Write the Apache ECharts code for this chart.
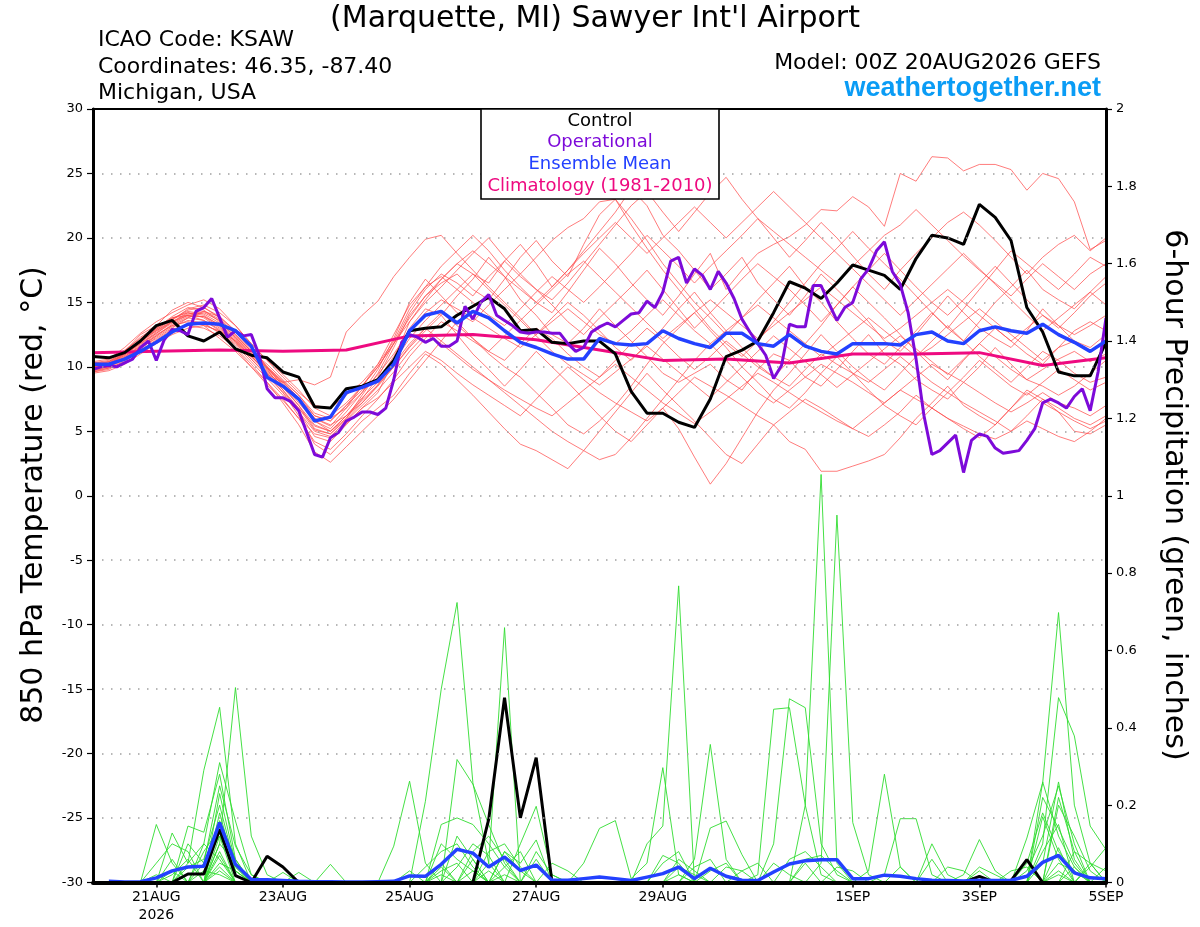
<!DOCTYPE html>
<html><head><meta charset="utf-8">
<script src="https://cdn.jsdelivr.net/npm/echarts@6/dist/echarts.min.js"></script>
<style>html,body{margin:0;padding:0;background:#fff}#c{width:1200px;height:927px}</style>
</head><body><div id="c"></div>
<script>
// ---- axis ticks (hours after 00Z 20AUG2026) ----
const labelHours = [24, 72, 120, 168, 216, 288, 336, 384];
const labelTexts = ['21AUG\n2026', '23AUG', '25AUG', '27AUG', '29AUG', '1SEP', '3SEP', '5SEP'];

// ---- climatology (daily) ----
const climHours = [0,24,48,72,96,120,144,168,192,216,240,264,288,312,336,360,384];
const climTemp = [11.1,11.2,11.3,11.2,11.3,12.4,12.5,12.1,11.3,10.5,10.6,10.3,11.0,11.0,11.1,10.1,10.7];

// ---- control 850 hPa temperature (6-hourly, h0..h384) ----
const controlTemp = [
 10.8,10.7,11.1,12.0, 13.2,13.6,12.4,12.0, 12.7,11.4,10.9,10.7, 9.6,9.2,6.9,6.8,
 8.3,8.5,9.0,10.5, 12.8,13.0,13.1,14.0, 14.7,15.4,14.5,12.8, 12.9,11.9,11.8,12.0,
 12.0,11.0,8.1,6.4, 6.4,5.7,5.3,7.5, 10.8,11.3,12.0,14.2, 16.6,16.1,15.3,16.5,
 17.9,17.5,17.1,16.0, 18.4,20.2,20.0,19.5, 22.6,21.6,19.8,14.6, 12.7,9.6,9.3,9.3, 11.9];

// ---- ensemble mean temperature (6-hourly) ----
const meanTemp = [
 10.2,10.2,10.6,11.2, 11.9,12.7,13.3,13.4, 13.3,12.8,11.6,9.2, 8.5,7.5,5.8,6.1,
 8.0,8.4,8.9,10.2, 12.8,14.0,14.3,13.4, 14.3,13.8,12.8,11.9, 11.5,11.0,10.6,10.6,
 12.2,11.8,11.7,11.8, 12.8,12.2,11.8,11.5, 12.6,12.6,11.8,11.6, 12.5,11.6,11.2,11.0,
 11.8,11.8,11.8,11.7, 12.5,12.7,12.0,11.8, 12.8,13.1,12.8,12.6, 13.3,12.5,11.9,11.2, 12.0];

// ---- operational temperature (3-hourly) ----
const operTemp = [
 9.8,10.0,10.1,10.0,10.3,10.6,11.5,12.0,
 10.5,12.1,12.9,12.8,12.5,14.3,14.6,15.3,
 13.8,12.3,12.8,12.4,12.5,10.9,8.3,7.6,
 7.6,7.3,6.6,4.9,3.2,3.0,4.5,4.9,
 5.8,6.1,6.5,6.5,6.3,6.8,9.0,11.9,
 12.5,12.3,11.9,12.2,11.6,11.6,12.0,14.7,
 13.7,15.0,15.6,14.0,13.6,13.2,12.7,12.6,
 12.7,12.7,12.6,12.6,11.8,11.2,11.5,12.7,
 13.1,13.4,13.1,13.6,14.1,14.2,15.1,14.6,
 15.8,18.2,18.5,16.5,17.6,17.1,16.0,17.4,
 16.5,15.3,13.7,12.7,11.8,10.9,9.1,10.1,
 13.3,13.1,13.1,16.3,16.3,14.9,13.6,14.6,
 15.0,16.8,17.6,19.0,19.7,17.4,16.4,14.2,
 10.6,6.2,3.2,3.5,4.1,4.7,1.8,4.3,
 4.8,4.6,3.7,3.3,3.4,3.5,4.3,5.2,
 7.2,7.5,7.2,6.8,7.7,8.3,6.6,9.6,
 13.8];

// ---- control & mean 6-hour precipitation (index 0 = h0, not drawn) ----
const controlPrecip = [
 0,0,0,0, 0,0,0.022,0.022, 0.137,0.018,0,0.068, 0.04,0,0,0,
 0,0,0,0, 0,0,0,0, 0,0.163,0.478,0.167, 0.323,0,0,0,
 0,0,0,0, 0,0,0,0, 0,0,0,0, 0,0,0,0,
 0,0,0,0, 0,0,0,0, 0.016,0,0.005,0.059, 0,0,0,0, 0];
const meanPrecip = [
 0,0.003,0.001,0.002, 0.012,0.03,0.04,0.042, 0.155,0.047,0.008,0.007, 0.005,0.003,0.002,0.002,
 0.001,0.001,0.002,0.003, 0.017,0.016,0.047,0.086, 0.076,0.04,0.066,0.031, 0.045,0.006,0.006,0.01,
 0.014,0.01,0.005,0.014, 0.023,0.04,0.01,0.037, 0.016,0.006,0.005,0.027, 0.048,0.056,0.059,0.059,
 0.01,0.01,0.019,0.016, 0.01,0.006,0.005,0.004, 0.006,0.005,0.006,0.016, 0.052,0.07,0.025,0.012, 0.01];

// ---- ensemble member temperatures (6-hourly) ----
const memberT01 = [9.8,10.1,10.9,11.8,12.6,13.5,14.2,14.0,13.2,12.1,11.0,9.8,8.2, 6.5,4.6,4.2,5.5,6.8,8.0,10.5,13.5,15.2,16.8,18.0, 17.2,16.5,18.2,19.5,18.0,16.2,17.5,19.0,20.5,22.0, 23.8,22.5,20.2,19.0,17.5,16.0,17.2,18.5,16.5,15.2, 14.0,15.5,17.2,16.0,14.8,13.5,12.0,11.2,12.5,14.0, 15.5,14.2,13.0,12.2,11.5,12.8,14.5,13.2,12.0,11.5,12.5];
const memberT02 = [10.2,10.4,11.2,12.5,13.2,14.4,15.0,14.6,13.8,12.5,11.2,10.2,9.0, 7.8,6.2,5.8,7.0,8.2,9.0,10.8,13.0,14.5,14.0,15.5, 16.8,18.5,17.0,15.2,14.0,12.5,11.8,13.0,14.5,13.2, 12.0,10.8,9.5,8.8,9.5,10.2,9.0,8.2,9.8,11.0, 10.5,9.2,8.5,9.8,11.2,12.5,11.0,10.2,9.0,8.2, 7.5,8.8,10.0,11.5,10.2,9.0,8.5,7.8,8.5,9.5,10.5];
const memberT03 = [9.6,9.8,10.5,11.2,12.0,12.8,13.2,13.0,12.4,11.5,10.2,8.8,7.2, 5.5,3.4,2.6,3.8,5.0,6.2,7.5,9.0,10.5,12.0,13.5, 12.2,11.0,10.0,9.2,8.0,6.8,5.5,4.8,5.8,7.0, 8.5,10.2,11.8,13.0,14.2,12.8,11.5,10.0,8.8,7.5, 6.8,8.0,9.5,10.8,9.5,8.2,7.0,6.2,5.5,6.8, 8.0,7.2,6.5,5.8,5.0,6.2,7.5,6.8,6.0,5.5,6.2];
const memberT04 = [10.0,10.3,11.0,11.9,12.8,13.6,14.5,14.8,14.2,13.2,11.8,10.5,9.2, 8.0,7.0,6.8,7.8,8.8,10.2,12.0,14.5,16.2,17.8,19.0, 20.2,19.0,17.5,16.2,15.0,14.2,15.8,17.5,19.2,18.0, 16.5,15.2,14.0,15.5,17.2,18.8,16.0,17.5,18.8,19.5, 20.1,21.0,22.2,22.1,23.2,22.4,20.9,25.0,24.4,26.3, 26.2,25.2,25.7,25.7,25.3,23.7,25.0,24.6,22.8,19.1,19.8];
const memberT05 = [10.1,10.0,10.6,11.5,12.2,13.0,13.8,14.3,13.9,12.8,11.5,10.0,8.5, 7.0,5.2,4.8,6.0,7.5,9.2,11.5,14.0,15.5,16.5,17.2, 16.0,15.2,16.8,18.5,19.8,18.2,17.0,19.5,21.8,23.0, 21.5,19.8,18.0,16.5,15.0,13.8,12.5,13.8,15.2,16.5, 17.8,16.2,15.0,13.5,12.2,11.0,10.2,11.5,12.8,14.2, 13.0,12.0,13.5,15.0,16.2,17.5,16.0,15.2,14.5,15.8,17.0];
const memberT06 = [9.5,9.7,10.2,11.0,11.8,12.5,13.0,13.2,12.8,12.0,10.8,9.5,8.0, 6.2,4.0,3.2,4.5,5.8,6.8,7.8,9.5,11.0,10.2,9.0, 7.8,6.5,5.2,4.0,3.5,2.8,2.1,3.5,5.0,6.5, 8.0,9.5,8.2,7.0,5.8,4.5,3.2,2.5,4.0,5.5, 4.2,3.6,1.9,1.9,2.3,2.7,3.2,4.5,6.0,7.2, 8.5,7.0,6.2,5.5,6.8,8.2,7.5,6.5,5.8,5.2,5.8];
const memberT07 = [10.3,10.5,11.3,12.2,13.0,13.8,14.2,13.8,13.0,12.0,10.8,9.6,8.5, 7.5,6.0,5.5,6.2,7.2,8.5,10.0,11.5,12.8,14.0,12.5, 11.0,9.8,8.5,9.8,11.2,10.0,8.8,7.5,6.2,5.0, 4.2,5.5,6.8,5.2,3.0,0.9,2.5,4.5,6.5,8.2, 9.5,11.0,12.5,11.2,10.0,9.0,8.2,9.5,10.8,12.0, 13.2,12.0,10.8,9.8,8.8,10.0,11.2,10.5,9.5,8.8,9.2];
const memberT08 = [9.9,10.2,11.0,12.0,13.0,13.9,14.6,14.4,13.5,12.3,11.0,9.8,8.6, 7.2,5.8,5.0,6.0,7.8,9.5,11.8,14.2,16.0,17.2,16.5, 15.5,17.0,18.2,17.0,16.0,15.2,16.5,18.0,19.5,21.0, 22.5,23.6,22.0,20.5,22.0,23.5,24.7,23.0,21.5,20.0, 18.5,19.8,21.2,20.0,18.6,17.2,16.0,17.5,18.8,20.0, 21.2,22.0,21.0,19.8,18.5,17.2,18.5,19.5,20.2,19.0,20.0];
const memberT09 = [10.0,10.4,11.2,12.3,13.1,13.8,14.0,13.6,12.8,11.8,10.6,9.4,8.8, 9.0,8.6,9.2,12.7,14.0,15.1,17.0,18.5,19.9,20.2,18.8, 17.5,16.2,15.0,13.8,12.5,13.8,15.0,14.0,12.8,11.5, 10.5,11.8,13.0,14.5,15.8,14.2,12.8,11.5,10.2,9.2, 10.5,11.8,13.2,14.8,16.2,15.0,13.8,12.5,11.2,10.0, 9.0,10.5,11.8,13.0,12.0,11.0,10.2,11.5,12.8,13.5,12.8];
const memberT10 = [9.7,9.9,10.6,11.4,12.3,13.1,13.6,13.4,12.6,11.4,10.0,8.6,7.4, 6.0,4.8,4.5,5.6,6.8,7.6,8.8,10.0,11.2,10.5,9.5, 8.6,7.8,7.0,6.2,7.5,8.8,10.0,9.0,8.0,7.2, 6.5,5.8,6.8,8.0,9.2,8.5,7.8,7.0,6.2,5.5, 6.5,7.5,6.8,6.0,5.2,4.6,5.5,6.5,7.8,6.8, 6.0,5.2,4.5,5.5,6.8,8.0,7.2,6.5,5.0,4.8,5.5];
const memberT11 = [10.4,10.6,11.5,12.6,13.5,14.2,14.8,15.2,14.5,13.2,11.8,10.5,9.4, 8.2,6.8,6.2,7.2,8.5,10.0,11.8,13.5,15.0,16.2,17.5, 18.8,20.0,18.5,17.2,16.0,14.8,13.5,12.5,13.8,15.0, 16.2,17.5,16.0,14.5,13.0,14.2,15.5,16.8,18.0,17.0, 16.0,14.8,13.5,14.8,16.2,17.5,18.8,17.5,16.2,15.0, 14.0,15.2,16.5,17.8,16.5,15.2,14.0,13.0,14.2,15.5,16.5];
const memberT12 = [9.8,10.0,10.8,11.6,12.5,13.2,13.5,13.2,12.2,11.2,10.0,8.8,7.5, 6.0,4.2,3.6,4.8,6.2,7.5,9.0,10.8,12.2,13.5,12.8, 12.0,11.2,10.5,11.8,13.0,12.2,11.0,10.0,9.2,10.5, 11.8,13.0,12.0,10.8,9.8,10.8,12.0,11.0,10.0,9.2, 8.5,9.8,11.0,10.2,9.5,8.8,9.8,10.8,9.8,8.8, 8.0,9.2,10.5,9.5,8.5,7.8,8.8,9.8,9.0,8.2,8.8];
const memberT13 = [10.2,10.1,10.8,11.7,12.6,13.4,14.0,14.2,13.6,12.4,11.2,9.9,8.7, 7.4,5.8,5.2,6.5,8.0,9.8,12.2,15.0,16.8,15.5,14.2, 13.5,14.8,16.0,17.2,18.5,19.8,20.8,21.5,22.8,23.0, 21.0,19.2,17.5,16.0,14.5,13.0,11.8,10.8,12.0,13.5, 15.0,16.5,18.0,19.2,20.5,19.2,18.0,16.8,15.5,14.2, 13.0,14.5,16.0,17.5,19.0,18.0,17.0,16.0,17.2,18.5,17.8];
const memberT14 = [10.0,10.2,10.9,11.9,12.9,13.7,14.4,14.6,13.9,12.7,11.3,10.0,8.9, 7.8,6.4,6.0,6.8,8.0,9.4,11.0,12.8,14.2,15.2,14.5, 13.8,13.0,12.2,11.5,12.5,13.5,14.5,13.5,12.5,11.8, 12.8,14.0,15.2,14.0,12.8,11.8,12.8,13.8,14.8,13.8, 12.8,11.8,10.8,11.8,12.8,13.8,12.8,11.8,10.8,11.5, 12.5,13.5,14.5,13.5,12.5,11.5,10.5,11.5,12.0,11.2,12.0];
const memberT15 = [9.6,9.9,10.4,11.3,12.1,12.9,13.3,13.3,12.7,11.7,10.4,9.1,7.8, 6.5,5.0,4.6,5.8,7.0,8.2,9.6,11.2,12.5,11.8,10.8, 9.8,9.0,8.2,7.5,6.8,6.2,7.2,8.2,9.2,10.2, 9.2,8.2,7.2,6.4,5.6,6.5,7.5,8.5,9.5,8.8, 8.0,7.2,6.5,5.8,5.2,6.2,7.2,8.2,7.5,6.8, 6.0,5.4,4.8,4.4,5.0,5.8,5.2,4.6,4.2,5.0,6.0];
const memberT16 = [10.1,10.3,11.1,12.1,12.9,13.7,14.3,14.1,13.4,12.3,11.1,9.9,8.8, 7.6,6.0,5.4,6.8,8.5,10.2,12.5,14.8,16.2,17.0,16.0, 15.0,14.0,13.2,14.5,15.8,17.0,16.0,15.0,16.2,17.5, 18.8,20.2,19.0,17.8,16.5,17.8,19.0,20.2,21.5,20.5, 19.5,18.5,17.5,16.5,17.8,19.0,20.2,21.0,22.2,21.0, 19.8,18.6,17.5,16.5,15.5,16.8,18.0,17.0,16.0,17.2,18.0];
const memberT17 = [9.9,10.0,10.7,11.5,12.4,13.2,13.8,13.6,12.9,11.9,10.6,9.3,8.0, 6.8,5.4,5.0,6.2,7.6,8.8,10.2,11.8,13.0,12.0,11.0, 10.0,9.0,8.0,7.0,6.0,5.0,4.2,3.5,2.8,3.2, 4.5,6.0,7.5,9.0,10.5,11.8,10.5,9.2,8.0,7.2, 8.2,9.2,10.2,9.5,8.8,8.0,7.2,8.2,9.2,10.2, 9.5,8.8,8.0,7.2,6.5,7.2,8.0,7.2,6.8,6.2,7.0];
const memberT18 = [10.3,10.4,11.0,12.0,12.8,13.5,14.0,13.9,13.1,12.0,10.8,9.7,8.4, 7.0,5.5,5.0,6.2,7.4,8.6,10.4,12.2,13.6,14.8,16.0, 17.2,16.0,14.8,13.6,14.8,16.0,17.2,18.2,17.0,15.8, 14.6,13.4,12.2,13.2,14.2,15.2,14.2,13.2,12.2,13.2, 14.2,15.2,16.2,15.2,14.2,13.2,12.2,13.0,14.0,15.0, 16.0,15.0,14.0,13.0,12.0,13.0,14.0,13.2,12.5,13.2,14.0];
const memberT19 = [9.7,10.0,10.7,11.6,12.4,13.3,13.9,13.9,13.3,12.2,10.9,9.5,8.2, 6.8,5.1,4.8,5.9,7.2,8.6,10.0,11.6,13.0,14.2,13.2, 12.2,11.2,12.4,13.6,12.4,11.2,10.2,9.4,8.6,9.6, 10.6,11.6,10.6,9.6,8.6,7.6,8.8,10.0,11.2,12.4, 11.4,10.4,9.4,8.4,9.4,10.4,11.4,12.4,11.4,10.4, 9.4,10.6,11.8,10.8,9.8,9.0,9.8,10.6,11.2,10.4,11.0];
const memberT20 = [10.0,10.2,11.0,11.8,12.7,13.5,14.1,14.3,13.7,12.5,11.2,10.0,8.8, 7.6,6.2,5.8,7.0,8.5,10.0,11.8,13.8,15.5,16.8,18.0, 19.0,18.0,17.0,16.0,15.0,16.2,17.5,18.8,20.0,21.2, 20.0,18.8,20.0,21.2,22.4,21.2,20.0,21.2,22.4,23.6, 22.4,21.2,20.0,18.8,17.6,16.4,15.2,14.0,15.2,16.4, 17.6,18.8,17.6,16.4,15.2,14.0,12.8,13.8,14.8,15.8,14.8];

// ---- ensemble member 6-hour precipitation (index 0 = h0, not drawn) ----
const memberP01 = [0,0,0,0,.15, .05,0,0,.12,.04, 0,0,0,0,0, 0,0,0,0,0, 0,0,.03,.05,0, 0,0,0,0,0, 0,0,0,0,0, 0,0,.02,0,0, 0,0,0,0,0, 0,0,0,0,0, 0,0,0,0,0, 0,0,0,0,0, .22,.14,.05,0,0];
const memberP02 = [0,0,0,0,0, 0,.05,.29,.453,.1, 0,0,0,0,0, 0,0,0,0,0, 0,.21,.5,.724,.258, .05,0,0,0,0, 0,0,0,0,0, 0,0,0,0,0, 0,0,0,.1,.475, .452,.1,.02,0,0, 0,0,0,0,0, 0,0,0,0,0, 0,.02,0,0,0];
const memberP03 = [0,0,0,0,0, 0,0,0,.1,.504, .12,.02,0,0,0, 0,0,0,0,0, 0,0,0,0,0, .05,.659,0,0,0, 0,0,0,0,0, .1,.146,.767,0,0, 0,0,0,0,0, 0,0,0,0,0, 0,0,0,0,0, 0,0,0,0,.115, .258,.698,.2,.05,0];
const memberP04 = [0,0,0,0,0, .128,.05,.1,.31,.159, .02,0,0,0,0, 0,0,0,0,.094, .262,.05,0,0,0, 0,0,0,0,0, 0,0,0,0,0, 0,0,0,0,0, 0,0,0,0,0, 0,.05,.95,.155,.02, 0,0,0,0,0, 0,0,0,0,0, .1,.478,.379,.146,.085];
const memberP05 = [0,0,0,0,0, 0,.146,.13,.28,.06, 0,0,0,0,0, 0,0,0,0,0, 0,0,0,.318,.254, .15,.05,0,0,0, 0,0,0,0,0, 0,0,0,0,0, 0,0,0,0,0, .2,1.055,.05,0,0, 0,0,0,0,0, 0,0,0,0,0, 0,.05,.03,0,0];
const memberP06 = [0,0,0,0,0, 0,0,.05,.25,.094, .02,0,0,0,0, 0,0,0,0,0, 0,0,.15,.167,.15, .1,.04,0,0,0, 0,0,0,0,0, 0,0,0,.06,.357, .06,0,0,0,0, 0,0,0,0,0, 0,0,0,0,0, 0,0,0,0,.05, .18,.08,.03,0,0];
const memberP07 = [0,0,0,0,.05, .1,.08,0,.23,.05, 0,0,0,0,0, 0,0,0,0,0, 0,0,0,0,0, 0,0,.1,.197,.02, 0,0,0,0,0, 0,0,0,0,0, 0,0,.02,.448,.452, .2,.02,0,0,0, 0,0,0,0,0, .02,.111,.03,0,0, 0,0,0,0,0];
const memberP08 = [0,0,0,0,0, 0,.04,.06,.2,.04, 0,0,0,0,0, 0,0,0,0,0, 0,0,0,0,0, 0,0,0,0,0, 0,.05,.14,.16,.01, .05,.297,.02,0,0, 0,0,0,0,0, 0,0,0,0,0, 0,0,0,0,0, 0,0,0,0,0, .26,.12,.04,0,0];
const memberP09 = [0,0,0,0,0, .06,0,0,.18,.03, 0,0,0,0,0, 0,0,0,0,0, 0,0,0,0,.08, .12,.06,0,0,0, 0,0,0,0,0, 0,0,0,0,.141, .159,.072,0,0,0, 0,0,0,0,.03, .28,.04,0,0,0, 0,0,0,0,0, 0,0,0,.04,.09];
const memberP10 = [0,0,0,0,0, 0,0,0,.16,.06, 0,0,.026,0,0, 0,0,0,0,0, 0,.04,.08,.1,.04, 0,0,0,0,0, 0,0,0,0,0, 0,0,0,0,0, 0,0,0,0,.06, .08,.04,0,0,0, .02,.165,.165,.02,0, 0,0,0,0,0, .17,.06,0,0,0];
const memberP11 = [0,0,0,0,0, 0,0,.08,.14,.03, 0,0,0,0,0, 0,0,0,0,0, 0,0,0,0,0, 0,.08,.05,.11,0, 0,0,0,0,0, 0,.05,.08,0,0, 0,0,0,0,0, 0,0,0,0,0, 0,0,0,.1,.02, 0,0,0,0,0, 0,.2,.12,.03,0];
const memberP12 = [0,0,0,0,0, 0,.1,.05,.12,0, 0,0,0,0,0, 0,0,0,0,0, 0,0,.1,.06,.03, 0,0,0,0,0, 0,0,0,0,0, 0,0,0,0,0, .04,.03,0,0,0, 0,0,0,0,0, 0,0,0,0,0, 0,0,0,0,.03, .12,.25,.1,0,.04];
const memberP13 = [0,0,0,0,0, 0,0,0,.1,.05, 0,0,0,0,0, 0,0,0,0,0, 0,0,0,.04,.1, .07,0,0,0,0, 0,0,0,0,0, 0,0,0,.04,.06, 0,0,0,0,0, 0,0,0,0,0, 0,0,0,0,0, 0,.04,.02,0,0, 0,.22,.08,0,0];
const memberP14 = [0,0,0,0,.02, 0,0,0,.08,0, 0,0,0,0,0, .047,0,0,0,0, 0,0,.05,0,.06, 0,.08,.03,0,0, 0,0,0,0,0, 0,0,0,0,0, 0,0,0,0,0, .06,.07,.03,0,0, 0,0,0,0,0, 0,0,0,0,0, 0,0,0,.05,.03];
const memberP15 = [0,0,0,0,0, 0,0,.1,.06,0, 0,0,0,0,0, 0,0,0,0,0, 0,0,0,0,0, .08,.1,.04,0,0, 0,0,0,0,0, 0,0,.04,.02,0, 0,0,0,0,0, 0,0,0,0,0, 0,.04,0,0,0, 0,0,0,0,0, .08,.15,0,0,0];
const memberP16 = [0,0,0,0,0, 0,0,0,.05,.03, 0,0,0,0,0, 0,0,0,0,0, 0,0,0,.12,.06, 0,0,0,.08,.02, 0,0,0,0,0, 0,0,0,0,0, 0,0,0,.05,.02, 0,0,0,0,0, 0,0,0,0,0, 0,0,0,.03,.04, 0,0,.08,.05,0];
const memberP17 = [0,0,0,0,0, .03,0,0,.04,0, 0,0,0,.026,0, 0,0,0,0,0, 0,0,0,0,.03, 0,.04,.08,0,0, 0,0,0,0,0, 0,.07,.05,0,0, 0,0,0,0,0, 0,0,0,0,0, 0,0,0,.06,0, 0,0,0,0,0, 0,.09,0,0,0];
const memberP18 = [0,0,0,0,0, 0,0,0,.03,0, 0,0,0,0,0, 0,0,0,0,0, 0,0,.04,0,0, .03,0,0,.06,0, 0,0,0,0,0, 0,0,0,0,.03, .05,0,0,0,0, 0,0,.04,.03,0, 0,0,0,0,0, 0,0,0,0,0, .05,.26,.06,0,0];
const memberP19 = [0,0,0,0,0, 0,0,.03,.02,0, 0,0,0,0,0, 0,0,0,0,0, 0,0,0,0,0, 0,0,0,0,.05, .03,0,0,0,0, 0,0,0,0,0, 0,.03,.05,0,0, 0,0,0,0,0, 0,0,0,0,.04, .03,0,0,0,0, 0,0,.04,0,0];
const memberP20 = [0,0,0,0,0, .02,.06,0,.07,0, 0,0,0,0,0, 0,0,0,0,0, .03,0,.02,0,0, 0,.02,0,0,0, 0,0,0,0,0, 0,0,.06,.03,0, 0,0,0,0,0, .05,0,0,0,0, 0,0,0,0,0, 0,.03,0,0,0, 0,.03,0,0,0];

const memberTemps = [memberT01,memberT02,memberT03,memberT04,memberT05,memberT06,memberT07,memberT08,memberT09,memberT10,
  memberT11,memberT12,memberT13,memberT14,memberT15,memberT16,memberT17,memberT18,memberT19,memberT20];
const memberPrecips = [memberP01,memberP02,memberP03,memberP04,memberP05,memberP06,memberP07,memberP08,memberP09,memberP10,
  memberP11,memberP12,memberP13,memberP14,memberP15,memberP16,memberP17,memberP18,memberP19,memberP20];

// ---- helpers ----
const every = (arr, step) => arr.map((v, i) => [i * step, v]);
const precipPairs = (arr) => arr.slice(1).map((v, i) => [(i + 1) * 6, v]);
const FONT = 'DejaVu Sans';

const series = [];
memberTemps.forEach((m, k) => series.push({
  name: 'T member ' + (k + 1), type: 'line', yAxisIndex: 0, data: every(m, 6),
  showSymbol: false, symbol: 'none', silent: true, z: 2,
  lineStyle: { color: '#ff4848', width: 0.9, opacity: 0.8 }
}));
memberPrecips.forEach((m, k) => series.push({
  name: 'P member ' + (k + 1), type: 'line', yAxisIndex: 1, data: precipPairs(m),
  showSymbol: false, symbol: 'none', silent: true, z: 2,
  lineStyle: { color: '#30dc30', width: 0.9 }
}));
series.push({ name: 'Climatology', type: 'line', yAxisIndex: 0,
  data: climHours.map((h, i) => [h, climTemp[i]]), showSymbol: false, symbol: 'none', z: 3,
  lineStyle: { color: '#ee0a80', width: 3 } });
series.push({ name: 'Control', type: 'line', yAxisIndex: 0, data: every(controlTemp, 6),
  showSymbol: false, symbol: 'none', z: 4, lineStyle: { color: '#000', width: 3 } });
series.push({ name: 'Control precip', type: 'line', yAxisIndex: 1, data: precipPairs(controlPrecip),
  showSymbol: false, symbol: 'none', z: 4, lineStyle: { color: '#000', width: 3 } });
series.push({ name: 'Operational', type: 'line', yAxisIndex: 0, data: every(operTemp, 3),
  showSymbol: false, symbol: 'none', z: 4, lineStyle: { color: '#7d0ad9', width: 3 } });
series.push({ name: 'Ensemble Mean', type: 'line', yAxisIndex: 0, data: every(meanTemp, 6),
  showSymbol: false, symbol: 'none', z: 5, lineStyle: { color: '#2341ff', width: 3.5 } });
series.push({ name: 'Mean precip', type: 'line', yAxisIndex: 1, data: precipPairs(meanPrecip),
  showSymbol: false, symbol: 'none', z: 5, lineStyle: { color: '#2341ff', width: 3.5 } });

const txt = (x, y, text, opt) => Object.assign({
  type: 'text', x: x, y: y, z: 20,
  style: Object.assign({ text: text, fill: '#000', font: '22px "' + FONT + '"', align: 'left', verticalAlign: 'middle' }, opt || {})
});

const option = {
  animation: false,
  backgroundColor: '#fff',
  grid: { left: 93, right: 94, top: 109, bottom: 44.5, show: false },
  xAxis: {
    type: 'value', min: 0, max: 384, z: 8,
    axisLine: { show: true, onZero: false, lineStyle: { color: '#000', width: 4 } },
    axisTick: { show: true, customValues: labelHours, length: 5, lineStyle: { color: '#000', width: 1.5 } },
    axisLabel: { customValues: labelHours, formatter: (v) => labelTexts[labelHours.indexOf(v)] || '',
      color: '#000', fontFamily: FONT, fontSize: 14, lineHeight: 18, margin: 6 },
    splitLine: { show: false }
  },
  yAxis: [
    { type: 'value', min: -30, max: 30, interval: 5, position: 'left', z: 8,
      axisLine: { show: true, lineStyle: { color: '#000', width: 3 } },
      axisTick: { show: true, length: 6, lineStyle: { color: '#000', width: 1.2 } },
      axisLabel: { color: '#000', fontFamily: FONT, fontSize: 13, margin: 10 },
      splitLine: { show: true, showMinLine: false, showMaxLine: false,
        lineStyle: { color: '#a0a0a0', width: 1.5, type: [1.5, 7.5] } } },
    { type: 'value', min: 0, max: 2, interval: 0.2, position: 'right', z: 8,
      axisLine: { show: true, lineStyle: { color: '#000', width: 3 } },
      axisTick: { show: true, length: 6, lineStyle: { color: '#000', width: 1.2 } },
      axisLabel: { color: '#000', fontFamily: FONT, fontSize: 13, margin: 10 },
      splitLine: { show: false } }
  ],
  graphic: [
    { type: 'line', z: 18, shape: { x1: 92, y1: 109, x2: 1107, y2: 109 }, style: { stroke: '#000', lineWidth: 2 } },
    txt(595, 19, "(Marquette, MI) Sawyer Int'l Airport", { font: '30px "' + FONT + '"', align: 'center' }),
    txt(98, 40, 'ICAO Code: KSAW'),
    txt(98, 67, 'Coordinates: 46.35, -87.40'),
    txt(98, 93, 'Michigan, USA'),
    txt(1101, 63, 'Model: 00Z 20AUG2026 GEFS', { align: 'right' }),
    txt(1101, 89, 'weathertogether.net', { align: 'right', fill: '#0a9cf5', font: 'bold 27px "Liberation Sans"' }),
    { type: 'rect', z: 19, shape: { x: 481, y: 109, width: 238, height: 90 },
      style: { fill: '#fff', stroke: '#000', lineWidth: 1.6 } },
    txt(600, 121, 'Control', { font: '18px "' + FONT + '"', align: 'center' }),
    txt(600, 142, 'Operational', { font: '18px "' + FONT + '"', align: 'center', fill: '#7d0ad9' }),
    txt(600, 164, 'Ensemble Mean', { font: '18px "' + FONT + '"', align: 'center', fill: '#2341ff' }),
    txt(600, 186, 'Climatology (1981-2010)', { font: '18px "' + FONT + '"', align: 'center', fill: '#ee0a80' }),
    Object.assign(txt(34, 495, '850 hPa Temperature (red, °C)', { font: '30px "' + FONT + '"', align: 'center' }), { rotation: Math.PI / 2 }),
    Object.assign(txt(1174, 495, '6-hour Precipitation (green, inches)', { font: '30px "' + FONT + '"', align: 'center' }), { rotation: -Math.PI / 2 })
  ],
  series: series
};

const chart = echarts.init(document.getElementById('c'), null, { renderer: 'canvas' });
chart.setOption(option);
</script>
</body></html>
